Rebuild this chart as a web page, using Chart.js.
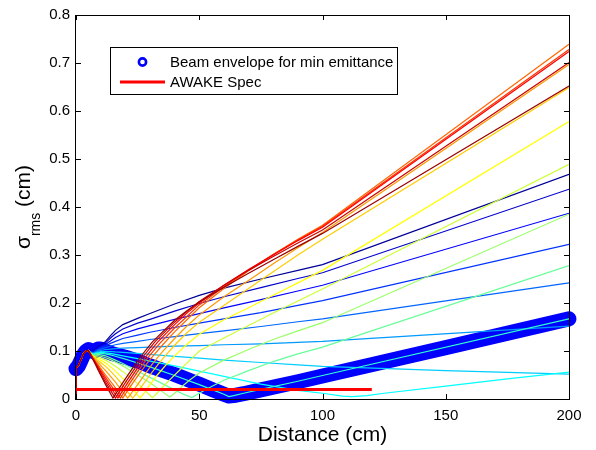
<!DOCTYPE html>
<html>
<head>
<meta charset="utf-8">
<script src="https://cdn.jsdelivr.net/npm/chart.js@4.4.1/dist/chart.umd.min.js"></script>
<style>
  html, body { margin: 0; padding: 0; background: #fff; }
  #wrap { width: 596px; height: 450px; }
</style>
</head>
<body>
<div id="wrap"><canvas id="chart" width="596" height="450"></canvas></div>
<script>
// tick values
const distanceTicks = [0, 50, 100, 150, 200];
const sigmaTicks = [0, 0.1, 0.2, 0.3, 0.4, 0.5, 0.6, 0.7, 0.8];

// [distance cm, sigma cm] - part common to every run
const sharedStart = [[0, 0], [0, 0.065], [1, 0.07], [2, 0.082], [3, 0.094], [4, 0.1], [5, 0.101]];

// each run after x = 5 cm (jet order, dark blue -> dark red)
const run01 = [[6,0.099],[7,0.1],[8,0.105],[9,0.109],[10,0.112],[12,0.12],[14,0.132],[16,0.143],[19,0.155],[25,0.168],[30,0.178],[40,0.198],[50,0.216],[60,0.231],[75,0.25],[90,0.268],[100,0.28],[200,0.468]];
const run02 = [[6,0.099],[7,0.099],[8,0.104],[9,0.108],[10,0.111],[12,0.117],[14,0.127],[16,0.136],[19,0.146],[25,0.158],[30,0.166],[40,0.183],[50,0.199],[60,0.213],[75,0.232],[90,0.251],[100,0.263],[200,0.437]];
const run03 = [[6,0.098],[7,0.098],[8,0.102],[9,0.106],[10,0.109],[12,0.114],[14,0.121],[16,0.128],[19,0.136],[25,0.146],[30,0.153],[40,0.166],[50,0.178],[60,0.19],[75,0.207],[90,0.225],[100,0.237],[200,0.387]];
const run04 = [[6,0.098],[7,0.097],[8,0.101],[9,0.104],[10,0.107],[12,0.111],[14,0.116],[16,0.12],[19,0.126],[25,0.133],[30,0.139],[40,0.149],[50,0.158],[60,0.167],[75,0.18],[90,0.195],[100,0.205],[200,0.322]];
const run05 = [[6,0.097],[7,0.096],[8,0.099],[9,0.102],[10,0.104],[12,0.107],[14,0.11],[16,0.113],[19,0.116],[25,0.12],[30,0.124],[40,0.13],[50,0.136],[60,0.142],[75,0.151],[90,0.161],[100,0.167],[200,0.242]];
const run06 = [[6,0.097],[7,0.095],[8,0.097],[9,0.1],[10,0.101],[12,0.103],[14,0.104],[16,0.105],[19,0.106],[25,0.107],[30,0.108],[40,0.11],[50,0.111],[60,0.113],[75,0.115],[90,0.118],[100,0.12],[200,0.152]];
const run07 = [[6,0.096],[7,0.094],[8,0.096],[9,0.098],[10,0.099],[12,0.099],[14,0.099],[16,0.098],[19,0.097],[25,0.095],[30,0.093],[40,0.089],[50,0.085],[60,0.081],[75,0.076],[90,0.071],[100,0.068],[150,0.059],[200,0.052]];
const run08 = [[6,0.096],[7,0.093],[8,0.095],[9,0.096],[10,0.097],[12,0.096],[14,0.095],[16,0.093],[19,0.09],[25,0.084],[30,0.079],[40,0.069],[50,0.058],[60,0.047],[75,0.031],[90,0.018],[100,0.012],[108,0.006],[112,0.005],[118,0.007],[125,0.012],[150,0.027],[175,0.042],[200,0.056]];
const run09 = [[6,0.095],[7,0.092],[8,0.094],[9,0.095],[10,0.095],[12,0.094],[14,0.092],[16,0.089],[20,0.083],[25,0.075],[30,0.067],[40,0.049],[50,0.03],[56,0.018],[60,0.01],[62,0.005],[64,0.007],[68,0.012],[75,0.02],[90,0.037],[100,0.049],[200,0.167]];
const run10 = [[6,0.095],[7,0.091],[8,0.092],[9,0.093],[10,0.092],[12,0.09],[16,0.081],[19,0.074],[25,0.058],[30,0.045],[35,0.032],[40,0.019],[44,0.009],[47,0.003],[50,0.012],[55,0.026],[60,0.039],[70,0.059],[80,0.078],[90,0.094],[100,0.108],[200,0.278]];
const run11 = [[6,0.094],[7,0.09],[8,0.09],[9,0.09],[10,0.089],[12,0.086],[14,0.082],[16,0.077],[19,0.069],[25,0.05],[30,0.034],[34,0.019],[38,0.004],[40,0.012],[43,0.026],[46,0.039],[50,0.054],[60,0.081],[70,0.103],[80,0.124],[90,0.142],[100,0.159],[200,0.385]];
const run12 = [[6,0.094],[7,0.089],[8,0.088],[9,0.087],[10,0.085],[12,0.081],[14,0.075],[16,0.068],[19,0.057],[22,0.045],[25,0.032],[28,0.018],[31,0.003],[33,0.013],[35,0.024],[38,0.04],[42,0.06],[46,0.08],[50,0.1],[60,0.127],[70,0.153],[80,0.179],[90,0.204],[100,0.229],[200,0.489]];
const run13 = [[6,0.094],[7,0.088],[8,0.086],[9,0.084],[10,0.081],[12,0.075],[14,0.067],[16,0.058],[19,0.043],[22,0.027],[24,0.015],[26,0.002],[28,0.015],[30,0.03],[33,0.05],[36,0.068],[40,0.09],[45,0.114],[50,0.135],[60,0.165],[70,0.19],[80,0.216],[90,0.242],[100,0.268],[200,0.578]];
const run14 = [[6,0.094],[7,0.087],[8,0.084],[9,0.08],[10,0.076],[12,0.068],[14,0.058],[16,0.047],[18,0.035],[20,0.021],[23,0.002],[25,0.015],[27,0.029],[30,0.05],[33,0.07],[36,0.089],[40,0.112],[45,0.138],[50,0.16],[60,0.195],[70,0.23],[80,0.265],[90,0.3],[100,0.333],[200,0.649]];
const run15 = [[6,0.093],[7,0.086],[8,0.081],[9,0.076],[10,0.07],[12,0.059],[14,0.047],[16,0.035],[18,0.021],[21,0.002],[23,0.016],[25,0.03],[28,0.052],[31,0.073],[35,0.098],[40,0.126],[45,0.152],[50,0.175],[60,0.213],[70,0.247],[80,0.282],[90,0.315],[100,0.347],[200,0.697]];
const run16 = [[6,0.093],[7,0.085],[8,0.078],[9,0.071],[10,0.064],[12,0.05],[14,0.037],[16,0.023],[19,0.002],[21,0.018],[23,0.033],[26,0.055],[30,0.082],[35,0.112],[40,0.14],[45,0.165],[50,0.19],[60,0.23],[70,0.267],[80,0.301],[90,0.333],[100,0.362],[200,0.739]];
const run17 = [[6,0.093],[7,0.084],[8,0.076],[9,0.068],[10,0.06],[12,0.045],[14,0.03],[16,0.016],[18,0.002],[20,0.018],[22,0.034],[25,0.057],[29,0.085],[34,0.116],[40,0.148],[45,0.172],[50,0.196],[60,0.234],[70,0.269],[80,0.301],[90,0.331],[100,0.36],[200,0.728]];
const run18 = [[6,0.092],[7,0.083],[8,0.075],[9,0.066],[10,0.057],[12,0.04],[14,0.024],[17,0.002],[19,0.018],[21,0.034],[24,0.057],[28,0.086],[33,0.118],[40,0.155],[45,0.179],[50,0.2],[60,0.237],[70,0.27],[80,0.3],[90,0.33],[100,0.358],[200,0.724]];
const run19 = [[6,0.092],[7,0.082],[8,0.073],[9,0.063],[10,0.053],[12,0.035],[14,0.018],[16,0.002],[18,0.018],[20,0.034],[23,0.057],[27,0.087],[32,0.119],[40,0.16],[45,0.182],[50,0.203],[60,0.237],[70,0.268],[80,0.297],[90,0.325],[100,0.352],[200,0.701]];
const run20 = [[6,0.091],[7,0.081],[8,0.071],[9,0.06],[10,0.05],[12,0.03],[15,0.002],[17,0.018],[19,0.034],[22,0.057],[26,0.087],[31,0.119],[40,0.164],[45,0.184],[50,0.202],[60,0.233],[70,0.262],[80,0.29],[90,0.318],[100,0.345],[200,0.652]];

// beam envelope for the minimum emittance run
const minEmittance = [[0,0.063],[1,0.069],[2,0.08],[3,0.092],[4,0.099],[5,0.103],[6,0.101],[7,0.099],[8,0.101],[9,0.104],[10,0.104],[12,0.1],[15,0.094],[20,0.087],[25,0.079],[30,0.069],[40,0.051],[50,0.031],[56,0.018],[60,0.01],[62,0.006],[64,0.007],[68,0.011],[75,0.019],[90,0.036],[100,0.048],[150,0.107],[200,0.167]];

// AWAKE spec
const awakeSpec = [[0, 0.02], [120, 0.02]];

const runs = [run01, run02, run03, run04, run05, run06, run07, run08, run09, run10,
              run11, run12, run13, run14, run15, run16, run17, run18, run19, run20];
// jet(20)
const jetColors = ['#000099','#0000cc','#0000ff','#0033ff','#0066ff','#0099ff','#00ccff','#00ffff','#33ffcc','#66ff99',
                   '#99ff66','#ccff33','#ffff00','#ffcc00','#ff9900','#ff6600','#ff3300','#ff0000','#cc0000','#990000'];

const FONT = "'Liberation Sans', Arial, Helvetica, sans-serif";
const toPts = (arr) => arr.map(([x, y]) => ({ x, y }));

const datasets = [];
datasets.push({
  label: 'AWAKE Spec', data: toPts(awakeSpec),
  borderColor: '#ff0000', borderWidth: 3, pointRadius: 0, order: 0
});
runs.forEach((r, i) => {
  datasets.push({
    label: 'run ' + (i + 1), data: toPts(sharedStart.concat(r)),
    borderColor: jetColors[i], borderWidth: 1.2, pointRadius: 0,
    order: 1 + (runs.length - i)   // red runs end up on top, like matlab
  });
});
datasets.push({
  label: 'Beam envelope for min emittance', data: toPts(minEmittance),
  borderColor: '#0000ff', borderWidth: 15, borderCapStyle: 'round', borderJoinStyle: 'round',
  pointRadius: 0, clip: false, order: 100
});

// box, inward ticks, sigma_rms title and the legend
const matlabAxes = {
  id: 'matlabAxes',
  afterDraw(chart) {
    const { ctx, chartArea: a, scales: { x, y } } = chart;
    ctx.save();
    ctx.strokeStyle = '#000';
    ctx.lineWidth = 1;
    ctx.strokeRect(a.left - 0.5, a.top + 0.5, a.right - a.left + 1, a.bottom - a.top);
    const tl = 5;
    ctx.beginPath();
    distanceTicks.forEach(v => {
      const px = Math.round(x.getPixelForValue(v)) + 0.5;
      ctx.moveTo(px, a.bottom); ctx.lineTo(px, a.bottom - tl);
      ctx.moveTo(px, a.top); ctx.lineTo(px, a.top + tl);
    });
    sigmaTicks.forEach(v => {
      const py = Math.round(y.getPixelForValue(v)) + 0.5;
      ctx.moveTo(a.left, py); ctx.lineTo(a.left + tl, py);
      ctx.moveTo(a.right, py); ctx.lineTo(a.right - tl, py);
    });
    ctx.stroke();

    // y title: sigma with "rms" subscript
    const big = `21px ${FONT}`, small = `14px ${FONT}`;
    ctx.fillStyle = '#000';
    ctx.textBaseline = 'alphabetic';
    ctx.textAlign = 'left';
    ctx.font = big;
    const wSig = ctx.measureText('σ').width;
    const wCm = ctx.measureText(' (cm)').width;
    ctx.font = small;
    const wRms = ctx.measureText('rms').width;
    const total = wSig + wRms + wCm;
    ctx.translate(30, (a.top + a.bottom) / 2);
    ctx.rotate(-Math.PI / 2);
    let x0 = -total / 2;
    ctx.font = big; ctx.fillText('σ', x0, 0);
    ctx.font = small; ctx.fillText('rms', x0 + wSig, 10);
    ctx.font = big; ctx.fillText(' (cm)', x0 + wSig + wRms, 0);
    ctx.restore();

    // legend
    const env = chart.data.datasets[chart.data.datasets.length - 1];
    const spec = chart.data.datasets[0];
    ctx.save();
    ctx.fillStyle = '#fff';
    ctx.fillRect(110.5, 47.5, 287, 47);
    ctx.strokeStyle = '#000';
    ctx.lineWidth = 1;
    ctx.strokeRect(110.5, 47.5, 287, 47);
    ctx.beginPath();
    ctx.arc(142.5, 62, 3.6, 0, Math.PI * 2);
    ctx.strokeStyle = env.borderColor;
    ctx.lineWidth = 2.6;
    ctx.stroke();
    ctx.beginPath();
    ctx.moveTo(120, 82); ctx.lineTo(165, 82);
    ctx.strokeStyle = spec.borderColor;
    ctx.lineWidth = spec.borderWidth;
    ctx.stroke();
    ctx.fillStyle = '#000';
    ctx.font = `15px ${FONT}`;
    ctx.textBaseline = 'alphabetic';
    ctx.fillText(env.label, 170, 67);
    ctx.fillText(spec.label, 170, 87);
    ctx.restore();
  }
};

new Chart(document.getElementById('chart').getContext('2d'), {
  type: 'line',
  data: { datasets },
  options: {
    responsive: false,
    animation: false,
    events: [],
    layout: { padding: { top: 12, right: 27, left: 0, bottom: 0 } },
    plugins: { legend: { display: false }, tooltip: { enabled: false } },
    scales: {
      x: {
        type: 'linear', min: 0, max: 200,
        afterBuildTicks: (s) => { s.ticks = distanceTicks.map(v => ({ value: v })); },
        ticks: { color: '#000', font: { family: FONT, size: 15 }, padding: 8, maxRotation: 0 },
        grid: { display: false, drawTicks: false },
        border: { display: false },
        title: { display: true, text: 'Distance (cm)', color: '#000',
                 font: { family: FONT, size: 21 }, padding: { top: 0, bottom: 2 } },
        afterFit: (s) => { s.height = 51; }
      },
      y: {
        type: 'linear', min: 0, max: 0.8,
        afterBuildTicks: (s) => { s.ticks = sigmaTicks.map(v => ({ value: v })); },
        ticks: { color: '#000', font: { family: FONT, size: 15 }, padding: 6,
                 callback: (v) => String(Math.round(v * 10) / 10) },
        grid: { display: false, drawTicks: false },
        border: { display: false },
        afterFit: (s) => { s.width = 76; }
      }
    }
  },
  plugins: [matlabAxes]
});
</script>
</body>
</html>
